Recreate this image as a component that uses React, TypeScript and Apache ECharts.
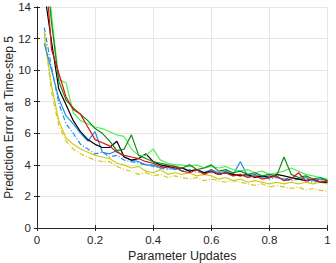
import React, { useEffect, useRef } from "react";
import * as echarts from "echarts";

const xs = [
  0.025, 0.05, 0.075, 0.1, 0.125, 0.15, 0.175, 0.2, 0.225, 0.25,
  0.275, 0.3, 0.325, 0.35, 0.375, 0.4, 0.425, 0.45, 0.475, 0.5,
  0.525, 0.55, 0.575, 0.6, 0.625, 0.65, 0.675, 0.7, 0.725, 0.75,
  0.775, 0.8, 0.825, 0.85, 0.875, 0.9, 0.925, 0.95, 0.975, 1.0,
];

const red = [
  17.5, 11.3, 9.8, 8.3, 7.5, 7.2, 6.4, 5.6, 5.4, 5.2,
  4.8, 4.6, 4.5, 4.4, 4.2, 4.1, 3.9, 3.8, 3.9, 3.6,
  3.5, 3.7, 3.4, 3.6, 3.4, 3.5, 3.3, 3.4, 3.2, 3.3,
  3.1, 3.2, 3.3, 3.0, 3.1, 3.5, 3.0, 3.1, 2.9, 3.0,
];
const darkGreen = [
  18, 13, 9.3, 8.1, 7.6, 7.2, 6.8, 6.3, 6.0, 5.5,
  4.9, 5.0, 5.9, 4.6, 4.4, 4.2, 4.1, 4.0, 3.9, 3.8,
  4.0, 3.7, 3.8, 4.0, 3.6, 3.7, 3.5, 3.6, 3.4, 3.5,
  3.3, 3.4, 3.3, 4.5, 3.4, 3.2, 3.3, 3.1, 3.2, 3.0,
];
const lightGreen = [
  19, 13.5, 9.4, 9.2, 7.3, 6.8, 6.6, 6.4, 6.3, 6.1,
  5.9, 5.8, 5.0, 4.6, 4.6, 5.0, 4.3, 4.1, 4.0, 4.0,
  3.9, 4.0, 3.8, 3.9, 3.8, 3.9, 3.7, 3.6, 3.7, 3.5,
  3.6, 3.4, 3.5, 3.6, 3.8, 3.6, 3.4, 3.3, 3.2, 3.1,
];
const black = [
  15, 11.8, 8.8, 7.8, 6.8, 6.1, 5.6, 5.3, 5.1, 5.1,
  5.5, 4.5, 4.3, 4.4, 4.7, 4.2, 4.0, 3.9, 3.8, 3.8,
  3.6, 3.7, 3.5, 3.6, 3.4, 3.5, 3.4, 3.3, 3.4, 3.2,
  3.3, 3.2, 3.4, 3.3, 3.2, 3.1, 3.0, 3.1, 2.9, 2.9,
];
const blue = [
  11.7, 10.0, 8.2, 7.1, 6.6, 6.0, 5.5, 6.1, 4.8, 4.7,
  4.9, 4.5, 4.3, 4.2, 4.0, 4.0, 3.8, 3.9, 3.7, 3.8,
  3.6, 3.7, 3.5, 3.7, 3.5, 3.6, 3.4, 4.2, 3.3, 3.4,
  3.2, 3.3, 3.2, 3.1, 3.2, 3.1, 3.2, 3.0, 3.1, 3.0,
];
const blueDash = [
  12.7, 10.2, 7.9, 6.6, 6.0, 5.3, 5.0, 4.7, 4.8, 4.5,
  4.6, 4.3, 4.2, 4.1, 4.0, 3.9, 3.8, 3.7, 3.8, 3.6,
  3.7, 3.5, 3.6, 3.5, 3.4, 3.5, 3.3, 3.4, 3.3, 3.2,
  3.3, 3.1, 3.2, 3.1, 3.0, 3.1, 3.0, 2.9, 3.0, 2.9,
];
const yellow = [
  12.2, 9.0, 6.8, 5.7, 5.3, 5.0, 4.8, 4.6, 4.5, 4.4,
  4.1, 4.0, 3.8, 3.9, 3.6, 3.5, 3.7, 3.4, 3.5, 3.4,
  3.5, 3.3, 3.4, 3.3, 3.1, 3.2, 3.0, 3.1, 2.9, 3.0,
  2.9, 2.8, 2.9, 2.8, 2.9, 2.8, 2.9, 2.8, 2.9, 2.8,
];
const yellowDash = [
  12.4, 8.6, 6.5, 5.5, 5.0, 4.7, 4.5, 4.3, 4.2, 4.2,
  3.9, 3.7, 3.6, 3.4, 3.5, 3.3, 3.4, 3.2, 3.3, 3.2,
  3.1, 3.2, 3.0, 3.1, 3.0, 2.9, 3.0, 2.9, 2.8, 2.7,
  2.8, 2.6, 2.7, 2.6, 2.5, 2.6, 2.4, 2.5, 2.4, 2.3,
];

const xTicks = [0, 0.2, 0.4, 0.6, 0.8, 1];
const yTicks = [0, 2, 4, 6, 8, 10, 12, 14];

const FONT = "'Liberation Sans', Arial, sans-serif";
const AX = "#262626";

export default function App() {
  const ref = useRef<HTMLDivElement>(null);
  useEffect(() => {
    document.body.style.margin = "0";
    const chart = echarts.init(ref.current!, null, { renderer: "svg" });
    const mk = (name: string, vals: number[], color: string, dash = false) => ({
      name,
      type: "line",
      data: xs.map((x, i) => [x, vals[i]]),
      showSymbol: false,
      symbol: "none",
      clip: true,
      lineStyle: { color, width: 1.2, type: dash ? [5, 2, 1, 2] : "solid" },
      z: 3,
    });
    const axisCommon = {
      axisLine: { show: true, lineStyle: { color: AX, width: 1 } },
      axisTick: { show: true, inside: true, length: 3, lineStyle: { color: AX } },
    };
    chart.setOption({
      animation: false,
      textStyle: { fontFamily: FONT },
      grid: {
        left: 37,
        right: 8.5,
        top: 7,
        bottom: 35,
        containLabel: false,
        outerBoundsMode: "none",
      },
      xAxis: [
        {
          type: "value",
          min: 0,
          max: 1,
          interval: 0.2,
          position: "bottom",
          ...axisCommon,
          axisLabel: {
            color: AX,
            fontSize: 11.5,
            margin: 6,
            fontFamily: FONT,
            formatter: (v: number) => {
              const t = xTicks.find((k) => Math.abs(k - v) < 1e-6);
              return t === undefined ? "" : String(t);
            },
          },
          splitLine: { show: true, lineStyle: { color: "#e6e6e6", width: 1 } },
          name: "Parameter Updates",
          nameLocation: "middle",
          nameGap: 21,
          nameMoveOverlap: false,
          nameTextStyle: { color: AX, fontSize: 12.5, fontFamily: FONT },
        },
        {
          type: "value",
          min: 0,
          max: 1,
          interval: 0.2,
          position: "top",
          ...axisCommon,
          axisLabel: { show: false },
          splitLine: { show: false },
        },
      ],
      yAxis: [
        {
          type: "value",
          min: 0,
          max: 14,
          interval: 2,
          position: "left",
          ...axisCommon,
          axisLabel: {
            color: AX,
            fontSize: 11.5,
            margin: 6,
            fontFamily: FONT,
            formatter: (v: number) => {
              const t = yTicks.find((k) => Math.abs(k - v) < 1e-6);
              return t === undefined ? "" : String(t);
            },
          },
          splitLine: { show: true, lineStyle: { color: "#e6e6e6", width: 1 } },
          name: "Prediction Error at Time-step 5",
          nameLocation: "middle",
          nameGap: 22,
          nameMoveOverlap: false,
          nameTextStyle: { color: AX, fontSize: 12, fontFamily: FONT },
        },
        {
          type: "value",
          min: 0,
          max: 14,
          interval: 2,
          position: "right",
          ...axisCommon,
          axisLabel: { show: false },
          splitLine: { show: false },
        },
      ],
      series: [
        mk("yellowDash", yellowDash, "#d2c81a", true),
        mk("yellow", yellow, "#d2c81a"),
        mk("blueDash", blueDash, "#1e8fe0", true),
        mk("blue", blue, "#1e8fe0"),
        mk("black", black, "#000000"),
        mk("lightGreen", lightGreen, "#55ee55"),
        mk("darkGreen", darkGreen, "#148a14"),
        mk("red", red, "#d91414"),
      ],
    });
    return () => chart.dispose();
  }, []);
  return <div ref={ref} style={{ width: 336, height: 263 }} />;
}
